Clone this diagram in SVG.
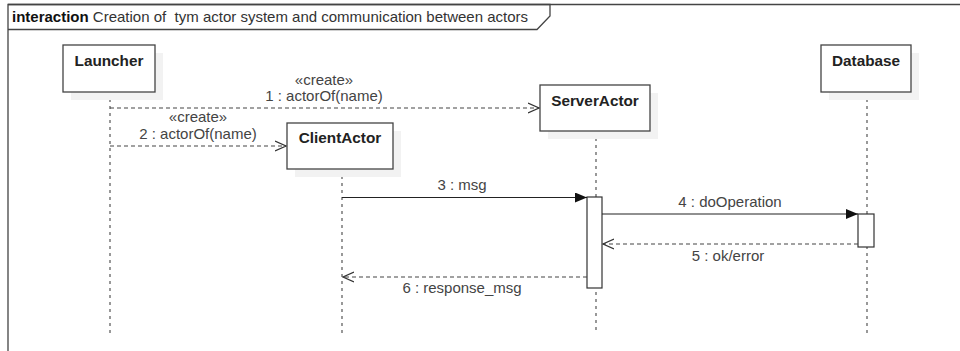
<svg xmlns="http://www.w3.org/2000/svg" width="960" height="351" viewBox="0 0 960 351">
<defs>
<style>
.frame{fill:none;stroke:#444;stroke-width:1.3}
.box{fill:#fff;stroke:#444;stroke-width:1.3}
.shadow{fill:#f2f2f2;stroke:none}
.name{font-family:"Liberation Sans",Arial,sans-serif;font-size:15.3px;font-weight:bold;fill:#222;text-anchor:middle}
.lbl{font-family:"Liberation Sans",Arial,sans-serif;font-size:15px;fill:#444;text-anchor:middle}
.title{font-family:"Liberation Sans",Arial,sans-serif;font-size:15px;fill:#333;white-space:pre}
.life{stroke:#555;stroke-width:1.2;stroke-dasharray:3,4;fill:none}
.sync{stroke:#222;stroke-width:1.2;fill:none}
.reply{stroke:#444;stroke-width:1.2;stroke-dasharray:4,3;fill:none}
.act{fill:#fff;stroke:#333;stroke-width:1.2}
</style>
<marker id="filled" viewBox="0 0 12 10" refX="12" refY="5" markerWidth="12" markerHeight="10" markerUnits="userSpaceOnUse" orient="auto">
<path d="M0,0 L12,5 L0,10 Z" fill="#111"/>
</marker>
<marker id="open" viewBox="0 0 12 12" refX="11" refY="6" markerWidth="12" markerHeight="12" markerUnits="userSpaceOnUse" orient="auto">
<path d="M0,1 L11,6 L0,11" fill="none" stroke="#333" stroke-width="1.2"/>
</marker>
</defs>
<rect width="960" height="351" fill="#fff"/>
<g id="frame">
<path class="frame" d="M8,351 V4.5 H960"/>
<path class="frame" d="M8,4.5 H550 V16 L537,29.5 H8"/>
<text class="title" x="12" y="22"><tspan font-weight="bold" fill="#111">interaction</tspan> Creation of  tym actor system and communication between actors</text>
</g>
<g id="lifelines">
<line class="life" x1="110" y1="92" x2="110" y2="334"/>
<line class="life" x1="596" y1="131" x2="596" y2="334"/>
<line class="life" x1="867" y1="92" x2="867" y2="334"/>
<line class="life" x1="342" y1="169" x2="342" y2="334"/>
</g>
<g id="launcher">
<rect class="shadow" x="71" y="53" width="92" height="47"/>
<rect class="box" x="63" y="45" width="92" height="47"/>
<text class="name" x="109" y="66">Launcher</text>
</g>
<g id="serverActor">
<rect class="shadow" x="548" y="93" width="110" height="46"/>
<rect class="box" x="540" y="85" width="110" height="46"/>
<text class="name" x="595" y="106">ServerActor</text>
</g>
<g id="database">
<rect class="shadow" x="829" y="53" width="90" height="47"/>
<rect class="box" x="821" y="45" width="90" height="47"/>
<text class="name" x="866" y="66">Database</text>
</g>
<g id="clientActor">
<rect class="shadow" x="295" y="131" width="106" height="46"/>
<rect class="box" x="287" y="123" width="106" height="46"/>
<text class="name" x="340" y="143">ClientActor</text>
</g>
<g id="activations">
<rect class="act" x="587" y="197" width="15" height="91"/>
<rect class="act" x="858" y="214" width="16" height="33"/>
</g>
<g id="connectors">
<line class="reply" x1="110" y1="108" x2="539" y2="108" marker-end="url(#open)"/>
<text class="lbl" x="324" y="85">«create»</text>
<text class="lbl" x="324" y="101">1 : actorOf(name)</text>
<line class="reply" x1="110" y1="146" x2="286" y2="146" marker-end="url(#open)"/>
<text class="lbl" x="198" y="122">«create»</text>
<text class="lbl" x="198" y="139">2 : actorOf(name)</text>
<line class="sync" x1="342" y1="197.5" x2="587" y2="197.5" marker-end="url(#filled)"/>
<text class="lbl" x="462" y="190">3 : msg</text>
<line class="sync" x1="602" y1="214" x2="858" y2="214" marker-end="url(#filled)"/>
<text class="lbl" x="730" y="207">4 : doOperation</text>
<line class="reply" x1="858" y1="244" x2="603" y2="244" marker-end="url(#open)"/>
<text class="lbl" x="728" y="261">5 : ok/error</text>
<line class="reply" x1="587" y1="277" x2="343" y2="277" marker-end="url(#open)"/>
<text class="lbl" x="462" y="293">6 : response_msg</text>
</g>
</svg>
